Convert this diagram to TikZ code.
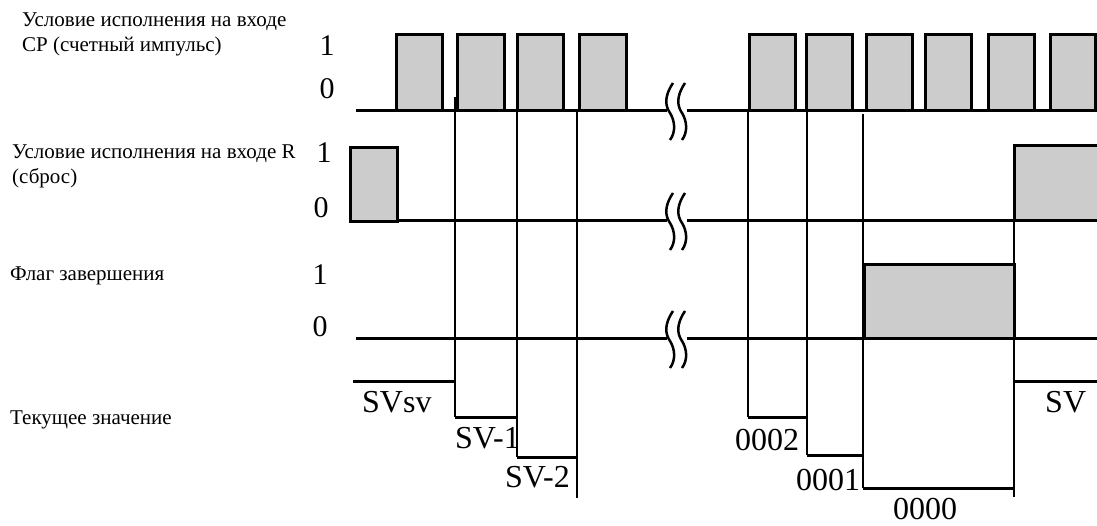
\documentclass[tikz,border=0pt]{standalone}
\usepackage{fontspec}
\setmainfont{Liberation Serif}

\tikzset{
  sig/.style={line width=3pt},
  tick/.style={line width=2.5pt},
  pulse/.style={fill=black!20, draw=black, line width=3pt},
  lbl/.style={inner sep=0pt, anchor=base west, font=\fontsize{21}{25}\selectfont},
  lvl/.style={inner sep=0pt, font=\fontsize{30}{32}\selectfont},
  val/.style={inner sep=0pt, anchor=base west, font=\fontsize{32}{34}\selectfont}
}

\begin{document}
\begin{tikzpicture}[x=1pt,y=-1pt]
  \useasboundingbox (0,0) rectangle (1097,525);

  % row labels
  \node[lbl] (cpa) at (22,26) {Условие исполнения на входе};
  \node[lbl] (cpb) at (22,51) {CP (счетный импульс)};
  \node[lbl] (ra) at (12,158) {Условие исполнения на входе R};
  \node[lbl] (rb) at (12,183) {(сброс)};
  \node[lbl] (fl) at (10,280) {Флаг завершения};
  \node[lbl] (cur) at (10,424) {Текущее значение};

  \node[lvl] (cpone) at (327,46) {1};
  \node[lvl] (cpzero) at (327,89) {0};
  \node[lvl] (rone) at (324,153) {1};
  \node[lvl] (rzero) at (321,208) {0};
  \node[lvl] (flone) at (320,275) {1};
  \node[lvl] (flzero) at (320,327) {0};

  % CP pulses
  \draw[sig] (356,110) -- (667,110);
  \draw[sig] (687,110) -- (1097,110);
  \foreach \a/\b in {396/442,457/504,517/563,579/626,749/795,806/852,866/912,925/971,988/1034,1050/1095}
    \filldraw[pulse] (\a,110) rectangle (\b,34);

  % R
  \filldraw[pulse] (350,221) rectangle (397,147);
  \draw[sig] (397,220) -- (667,220);
  \draw[sig] (687,220) -- (1014,220);
  \fill[black!20] (1014,220) rectangle (1097,145);
  \draw[sig] (1097,145) -- (1014,145) -- (1014,220) -- (1097,220);

  % flag
  \fill[black!20] (864,338) rectangle (1014,264);
  \draw[sig] (864,338) -- (864,264) -- (1014,264) -- (1014,338);
  \draw[sig] (356,338) -- (667,338);
  \draw[sig] (687,338) -- (1097,338);

  % breaks
  \foreach \y in {110,220,338}
    \foreach \x in {669,681}
      \draw[line width=2.5pt] (\x+4,\y-27) .. controls (\x-6,\y-12) and (\x-3,\y-3) .. (\x+1,\y+3)
        .. controls (\x+6,\y+11) and (\x+7,\y+22) .. (\x+1,\y+30);

  % current value
  \draw[tick] (455,97) -- (455,417);
  \draw[tick] (517,110) -- (517,457);
  \draw[tick] (577,110) -- (577,498);
  \draw[sig] (353,381) -- (455,381);
  \draw[sig] (455,417) -- (517,417);
  \draw[sig] (517,457) -- (577,457);

  \draw[tick] (748,110) -- (748,417);
  \draw[tick] (807,110) -- (807,455);
  \draw[tick] (863,114) -- (863,488);
  \draw[tick] (1014,145) -- (1014,497);
  \draw[sig] (748,417) -- (807,417);
  \draw[sig] (807,455) -- (863,455);
  \draw[sig] (863,488) -- (1014,488);
  \draw[sig] (1014,381) -- (1097,381);

  \node[val] (svsv) at (362,412) {SVsv};
  \node[val] (svone) at (455,448) {SV-1};
  \node[val] (svtwo) at (505,487) {SV-2};
  \node[val] (two) at (735,450) {0002};
  \node[val] (one) at (796,490) {0001};
  \node[val] (zero) at (893,519) {0000};
  \node[val] (sv) at (1045,412) {SV};
\end{tikzpicture}
\end{document}
